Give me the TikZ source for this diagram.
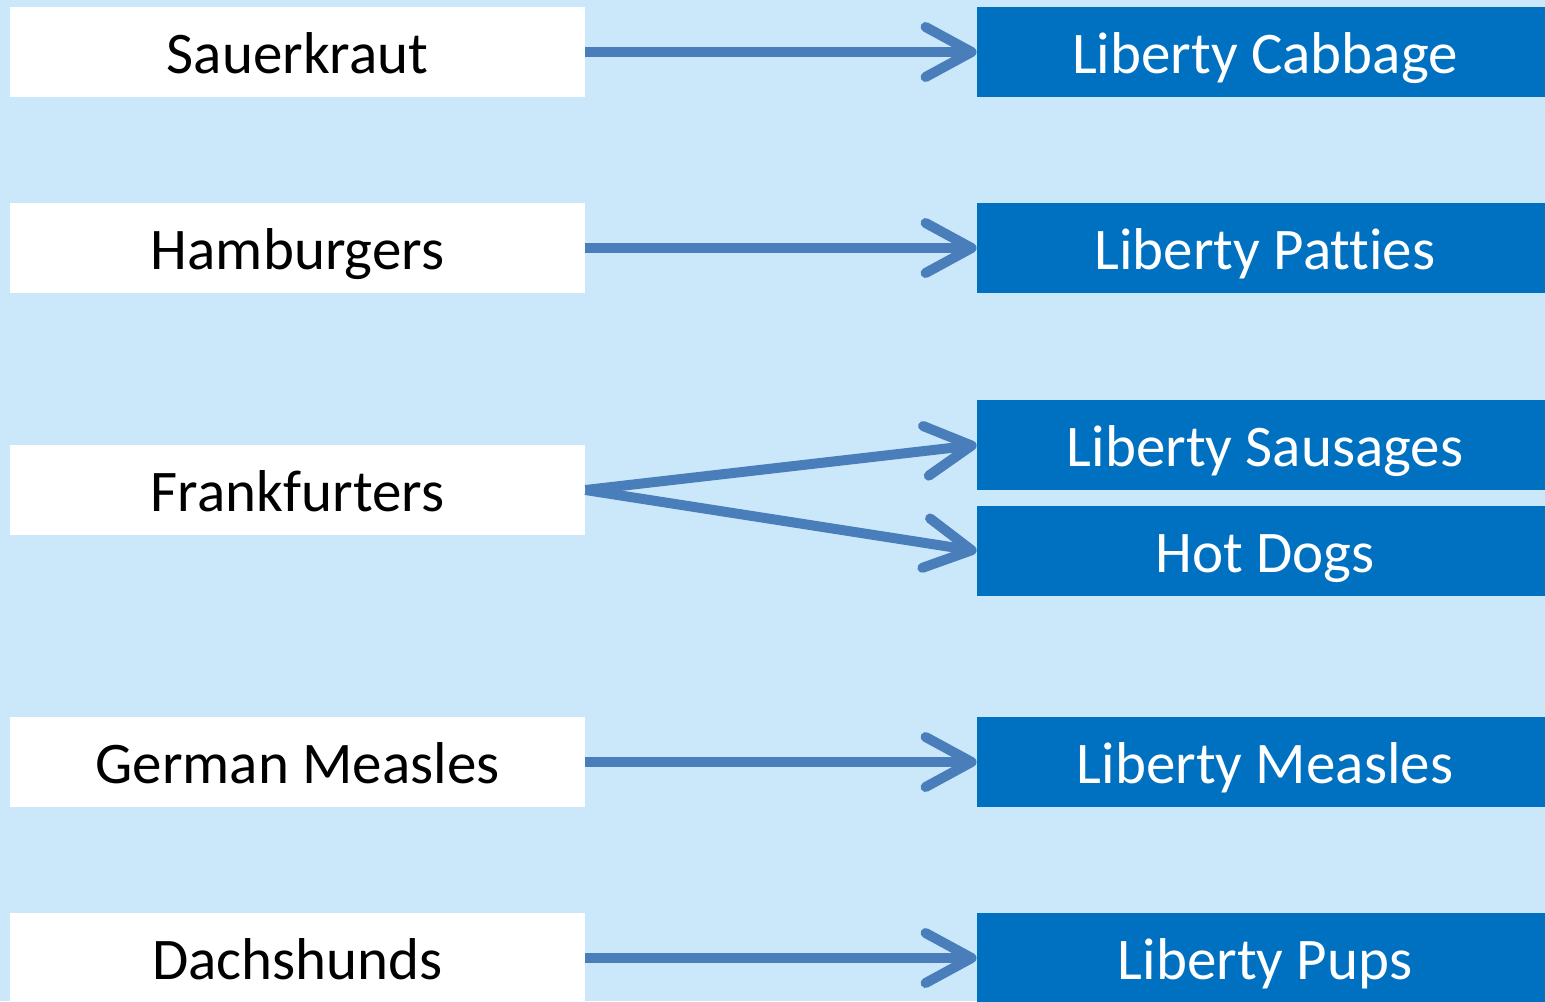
\documentclass[tikz,border=0pt]{standalone}
\usepackage{fontspec}
\setmainfont[Ligatures=NoCommon]{Carlito}
\usetikzlibrary{arrows.meta}
\definecolor{skyback}{HTML}{CBE8FB}
\definecolor{libblue}{HTML}{0070C0}
\definecolor{arrowblue}{HTML}{4A7EBB}
\begin{document}
\begin{tikzpicture}[x=0.5pt, y=-0.5pt,
    old/.style={fill=white, inner sep=0pt, minimum width=287.5pt, minimum height=45pt, text height=24pt, text depth=3pt, font=\fontsize{29.5}{34}\selectfont},
    new/.style={fill=libblue, text=white, inner sep=0pt, minimum width=288pt, minimum height=45pt, text height=24pt, text depth=3pt, font=\fontsize{29.5}{34}\selectfont},
    rename/.style={draw=arrowblue, line width=5pt, -{Straight Barb[length=23pt, width=25pt, round]}}]
    \useasboundingbox (0,0) rectangle (1545,1001);
    \fill[skyback] (0,0) rectangle (1545,1001);
    % old names
    \node[old] (sauerkraut) at (297.5,52) {Sauerkraut};
    \node[old] (hamburgers) at (297.5,248) {Hamburgers};
    \node[old] (frankfurters) at (297.5,490) {Frankfurters};
    \node[old] (measles) at (297.5,762) {German Measles};
    \node[old] (dachshunds) at (297.5,958) {Dachshunds};
    % new names
    \node[new] (cabbage) at (1265,52) {Liberty Cabbage};
    \node[new] (patties) at (1265,248) {Liberty Patties};
    \node[new] (sausages) at (1265,445) {Liberty Sausages};
    \node[new] (hotdogs) at (1265,551) {Hot Dogs};
    \node[new] (libmeasles) at (1265,762) {Liberty Measles};
    \node[new] (pups) at (1265,958) {Liberty Pups};
    % renamings
    \draw[rename] (sauerkraut.east) -- (cabbage.west);
    \draw[rename] (hamburgers.east) -- (patties.west);
    \draw[rename] (frankfurters.east) -- (sausages.west);
    \draw[rename] (frankfurters.east) -- (hotdogs.west);
    \draw[rename] (measles.east) -- (libmeasles.west);
    \draw[rename] (dachshunds.east) -- (pups.west);
\end{tikzpicture}
\end{document}
